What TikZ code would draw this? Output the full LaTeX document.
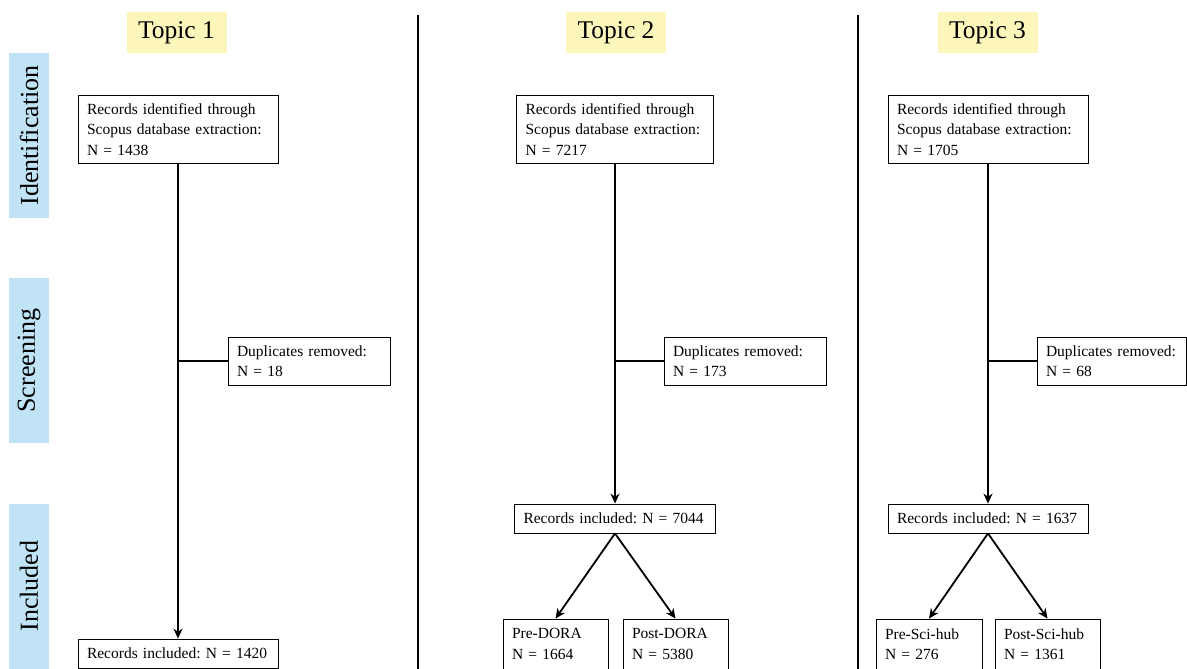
\documentclass[tikz,border=0pt]{standalone}
\usepackage{fontspec}
\setmainfont{Liberation Serif}
\usetikzlibrary{arrows.meta}
\definecolor{topicyellow}{RGB}{252,246,186}
\definecolor{stageblue}{RGB}{192,228,245}
\frenchspacing
\begin{document}
\begin{tikzpicture}[x=1pt,y=-1pt,
  box/.style={draw=black,line width=0.8pt,rectangle,align=left,inner xsep=9pt,inner ysep=0pt,
    font=\fontsize{15.5}{20.5}\selectfont,anchor=center},
  topic/.style={fill=topicyellow,minimum width=100pt,minimum height=41pt,inner sep=0pt,
    font=\fontsize{25.5}{28}\selectfont},
  stage/.style={fill=stageblue,minimum width=165pt,minimum height=40pt,inner sep=0pt,rotate=90,
    font=\fontsize{26}{28}\selectfont},
  conn/.style={line width=1.8pt,black},
  arr/.style={conn,-{Stealth[length=10pt,width=9pt]}},
  divider/.style={line width=1.3pt,black}
]
\useasboundingbox (0,0) rectangle (1187,669);

% stage labels
\node[stage] (sid) at (29,135.5) {Identification};
\node[stage] (sscr) at (29,360.5) {Screening};
\node[stage] (sinc) at (29,586) {Included};

% topic labels
\node[topic] (t1) at (176.5,32.5) {Topic 1};
\node[topic] (t2) at (616,32.5) {Topic 2};
\node[topic] (t3) at (987.5,32.5) {Topic 3};

% dividers
\coordinate (da1) at (418,15);
\coordinate (db1) at (418,669);
\coordinate (da2) at (858,15);
\coordinate (db2) at (858,669);
\draw[divider] (da1) -- (db1);
\draw[divider] (da2) -- (db2);

% ---- Topic 1
\node[box,minimum width=200pt,minimum height=68pt,text width=182pt] (a1) at (178,129.5)
  {Records identified through\\Scopus database extraction:\\N = 1438};
\node[box,minimum width=162pt,minimum height=48pt,text width=144pt] (d1) at (309,361)
  {Duplicates removed:\\N = 18};
\node[box,minimum width=200pt,minimum height=29pt,text width=182pt] (f1) at (178,653.5)
  {Records included: N = 1420};
\coordinate (j1) at (178,361);
\draw[arr] (a1.south) -- (f1.north);
\draw[conn] (j1) -- (d1.west);

% ---- Topic 2
\node[box,minimum width=197pt,minimum height=68pt,text width=179pt] (a2) at (615,129.5)
  {Records identified through\\Scopus database extraction:\\N = 7217};
\node[box,minimum width=162pt,minimum height=48pt,text width=144pt] (d2) at (745,361)
  {Duplicates removed:\\N = 173};
\node[box,minimum width=201pt,minimum height=29pt,text width=183pt] (f2) at (615,518.5)
  {Records included: N = 7044};
\node[box,minimum width=105pt,minimum height=50pt,text width=87pt] (p2) at (555.5,644)
  {Pre-DORA\\N = 1664};
\node[box,minimum width=105pt,minimum height=50pt,text width=87pt] (q2) at (675.5,644)
  {Post-DORA\\N = 5380};
\coordinate (j2) at (615,361);
\draw[arr] (a2.south) -- (f2.north);
\draw[conn] (j2) -- (d2.west);
\draw[arr] (f2.south) -- (p2.north);
\draw[arr] (f2.south) -- (q2.north);

% ---- Topic 3
\node[box,minimum width=200pt,minimum height=68pt,text width=182pt] (a3) at (988,129.5)
  {Records identified through\\Scopus database extraction:\\N = 1705};
\node[box,minimum width=149pt,minimum height=48pt,text width=131pt] (d3) at (1111.5,361)
  {Duplicates removed:\\N = 68};
\node[box,minimum width=200pt,minimum height=29pt,text width=182pt] (f3) at (988,518.5)
  {Records included: N = 1637};
\node[box,minimum width=106pt,minimum height=50pt,text width=88pt] (p3) at (929,644)
  {Pre-Sci-hub\\N = 276};
\node[box,minimum width=105pt,minimum height=50pt,text width=87pt] (q3) at (1047.5,644)
  {Post-Sci-hub\\N = 1361};
\coordinate (j3) at (988,361);
\draw[arr] (a3.south) -- (f3.north);
\draw[conn] (j3) -- (d3.west);
\draw[arr] (f3.south) -- (p3.north);
\draw[arr] (f3.south) -- (q3.north);
\end{tikzpicture}
\end{document}
